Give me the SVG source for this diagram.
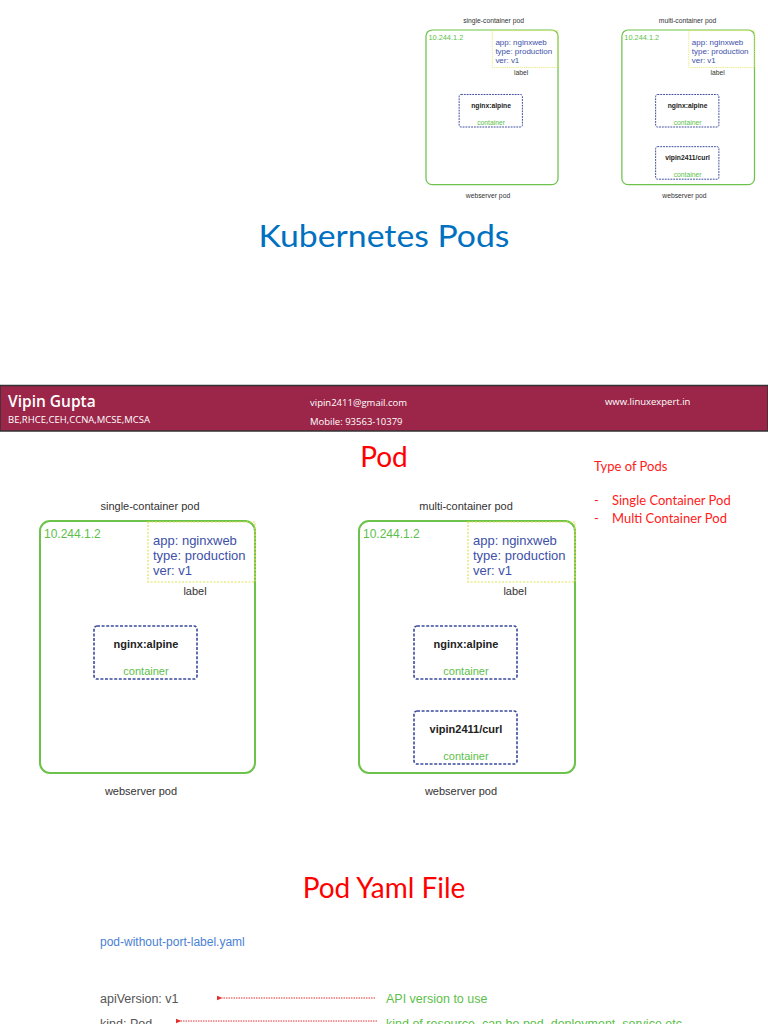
<svg xmlns="http://www.w3.org/2000/svg" width="768" height="1024" viewBox="0 0 768 1024">
<defs>
<style>
.h{font-family:"Liberation Sans",Arial,sans-serif}
.cap{font-size:11px;fill:#333}
.ip{font-size:12px;fill:#5cbf4a}
.lbl{font-size:13px;fill:#4050a8}
.img{font-size:11px;font-weight:bold;fill:#222}
.ctn{font-size:11px;fill:#5cbf4a}
.pod{fill:none;stroke:#6cc24a;stroke-width:2}
.lbox{fill:none;stroke:#e2e255;stroke-width:1.2;stroke-dasharray:2 1.5}
.cbox{fill:none;stroke:#3b4a9c;stroke-width:1.6;stroke-dasharray:3 1.6}
.cal{font-family:Lato,"Open Sans",sans-serif}
.ban{font-family:"Open Sans","Noto Sans",sans-serif;fill:#fff}
.arrow{stroke:#e23030;stroke-width:1;stroke-dasharray:1.5 1;fill:none}
</style>
<marker id="ah" viewBox="0 0 10 10" refX="1" refY="5" markerWidth="6" markerHeight="6" orient="auto-start-reverse" markerUnits="userSpaceOnUse">
<path d="M10,1 L0,5 L10,9 z" fill="#e23030"/>
</marker>
</defs>
<rect width="768" height="1024" fill="#fff"/>

<!-- top small diagram (scaled copy) -->
<g id="mini" transform="translate(426,30) scale(0.614) translate(-40,-521)">
<g id="mini-single" class="h">
<text class="cap" x="150" y="509" text-anchor="middle">single-container pod</text>
<rect class="pod" x="40" y="521" width="215" height="252" rx="10"/>
<rect class="lbox" x="148" y="522" width="107" height="60"/>
<text class="ip" x="44" y="538">10.244.1.2</text>
<text class="lbl" x="153" y="545">app: nginxweb</text>
<text class="lbl" x="153" y="560">type: production</text>
<text class="lbl" x="153" y="575">ver: v1</text>
<text class="cap" x="195" y="595" text-anchor="middle">label</text>
<rect class="cbox" x="94" y="626" width="103" height="53" rx="3"/>
<text class="img" x="146" y="648" text-anchor="middle">nginx:alpine</text>
<text class="ctn" x="146" y="675" text-anchor="middle">container</text>
<text class="cap" x="141" y="795" text-anchor="middle">webserver pod</text>
</g>
<g id="mini-multi" class="h" transform="translate(319,0)">
<text class="cap" x="147" y="509" text-anchor="middle">multi-container pod</text>
<rect class="pod" x="40" y="521" width="216" height="252" rx="10"/>
<rect class="lbox" x="149" y="522" width="107" height="60"/>
<text class="ip" x="44" y="538">10.244.1.2</text>
<text class="lbl" x="154" y="545">app: nginxweb</text>
<text class="lbl" x="154" y="560">type: production</text>
<text class="lbl" x="154" y="575">ver: v1</text>
<text class="cap" x="196" y="595" text-anchor="middle">label</text>
<rect class="cbox" x="95" y="626" width="103" height="53" rx="3"/>
<text class="img" x="147" y="648" text-anchor="middle">nginx:alpine</text>
<text class="ctn" x="147" y="675" text-anchor="middle">container</text>
<rect class="cbox" x="95" y="711" width="103" height="53" rx="3"/>
<text class="img" x="147" y="733" text-anchor="middle">vipin2411/curl</text>
<text class="ctn" x="147" y="760" text-anchor="middle">container</text>
<text class="cap" x="142" y="795" text-anchor="middle">webserver pod</text>
</g>
</g>

<text id="title1" class="cal" x="384" y="247" font-size="31" fill="#0070c0" text-anchor="middle" textLength="251" lengthAdjust="spacingAndGlyphs">Kubernetes Pods</text>

<!-- banner -->
<g id="banner">
<rect x="0" y="385.5" width="768" height="45.5" fill="#9b2649" stroke="#333" stroke-width="1.5"/>
<text class="ban" x="8" y="407" font-size="15.5" font-weight="600">Vipin Gupta</text>
<text class="ban" x="8" y="423" font-size="9.5">BE,RHCE,CEH,CCNA,MCSE,MCSA</text>
<text class="ban" x="310" y="406" font-size="9.5">vipin2411@gmail.com</text>
<text class="ban" x="310" y="425" font-size="9.5">Mobile: 93563-10379</text>
<text class="ban" x="605" y="405" font-size="9.5">www.linuxexpert.in</text>
</g>

<text id="title2" class="cal" x="384" y="467" font-size="28" fill="#ff0000" text-anchor="middle">Pod</text>

<g id="types" class="cal" fill="#ff2020" font-size="13">
<text x="594" y="471">Type of Pods</text>
<text x="594" y="505">-</text>
<text x="612" y="505">Single Container Pod</text>
<text x="594" y="523">-</text>
<text x="612" y="523">Multi Container Pod</text>
</g>

<!-- main diagram -->
<g id="single-pod" class="h">
<text class="cap" x="150" y="510" text-anchor="middle">single-container pod</text>
<rect class="pod" x="40" y="521" width="215" height="252" rx="10"/>
<rect class="lbox" x="148" y="522" width="107" height="60"/>
<text class="ip" x="44" y="538">10.244.1.2</text>
<text class="lbl" x="153" y="545">app: nginxweb</text>
<text class="lbl" x="153" y="560">type: production</text>
<text class="lbl" x="153" y="575">ver: v1</text>
<text class="cap" x="195" y="595" text-anchor="middle">label</text>
</g>
<g id="single-nginx" class="h">
<rect class="cbox" x="94" y="626" width="103" height="53" rx="3"/>
<text class="img" x="146" y="648" text-anchor="middle">nginx:alpine</text>
<text class="ctn" x="146" y="675" text-anchor="middle">container</text>
</g>
<text class="h cap" x="141" y="795" text-anchor="middle">webserver pod</text>

<g id="multi-pod" class="h">
<text class="cap" x="466" y="510" text-anchor="middle">multi-container pod</text>
<rect class="pod" x="359" y="521" width="216" height="252" rx="10"/>
<rect class="lbox" x="468" y="522" width="107" height="60"/>
<text class="ip" x="363" y="538">10.244.1.2</text>
<text class="lbl" x="473" y="545">app: nginxweb</text>
<text class="lbl" x="473" y="560">type: production</text>
<text class="lbl" x="473" y="575">ver: v1</text>
<text class="cap" x="515" y="595" text-anchor="middle">label</text>
</g>
<g id="multi-nginx" class="h">
<rect class="cbox" x="414" y="626" width="103" height="53" rx="3"/>
<text class="img" x="466" y="648" text-anchor="middle">nginx:alpine</text>
<text class="ctn" x="466" y="675" text-anchor="middle">container</text>
</g>
<g id="multi-curl" class="h">
<rect class="cbox" x="414" y="711" width="103" height="53" rx="3"/>
<text class="img" x="466" y="733" text-anchor="middle">vipin2411/curl</text>
<text class="ctn" x="466" y="760" text-anchor="middle">container</text>
</g>
<text class="h cap" x="461" y="795" text-anchor="middle">webserver pod</text>

<text id="title3" class="cal" x="384" y="898" font-size="28" fill="#ff0000" text-anchor="middle">Pod Yaml File</text>

<text class="h" x="100" y="946" font-size="12" fill="#4a7fd4">pod-without-port-label.yaml</text>

<g id="yaml" class="h" font-size="12.5">
<text x="100" y="1003" fill="#555">apiVersion: v1</text>
<text x="386" y="1003" fill="#5cbf4a">API version to use</text>
<text x="100" y="1028" fill="#555">kind: Pod</text>
<text x="386" y="1028" fill="#5cbf4a">kind of resource, can be pod, deployment, service etc</text>
</g>
<g id="connectors">
<line class="arrow" x1="375" y1="998" x2="222" y2="998" marker-end="url(#ah)"/>
<line class="arrow" x1="377" y1="1021" x2="181" y2="1021" marker-end="url(#ah)"/>
</g>
</svg>
